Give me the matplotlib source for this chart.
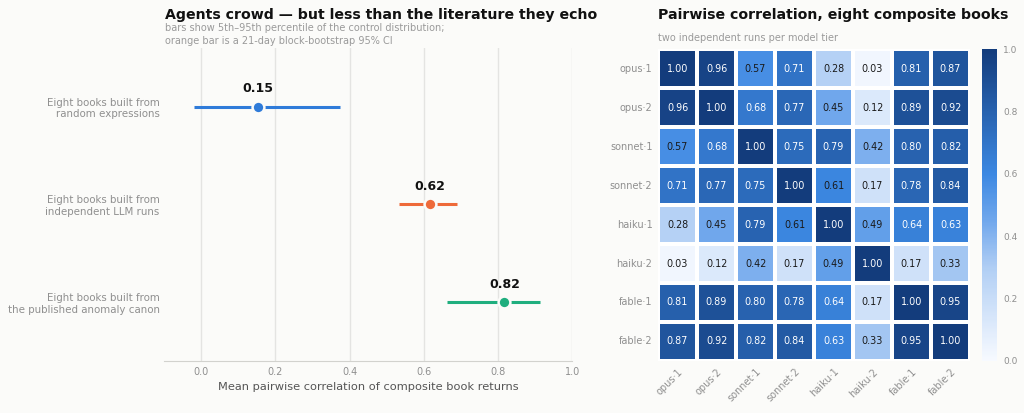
import numpy as np
import matplotlib
matplotlib.use("Agg")
import matplotlib.pyplot as plt
from matplotlib.colors import LinearSegmentedColormap
import seaborn as sns

# ---- data ----
groups = ["Eight books built from\nrandom expressions",
          "Eight books built from\nindependent LLM runs",
          "Eight books built from\nthe published anomaly canon"]
means = [0.154, 0.617, 0.817]
lo = [-0.018, 0.533, 0.663]
hi = [0.374, 0.690, 0.912]
labels = ["0.15", "0.62", "0.82"]
colors = ["#2f7bd9", "#ee6a3a", "#1fae7e"]

books = ["opus·1", "opus·2", "sonnet·1", "sonnet·2", "haiku·1", "haiku·2", "fable·1", "fable·2"]
corr = np.array([
    [1.00, 0.96, 0.57, 0.71, 0.28, 0.03, 0.81, 0.87],
    [0.96, 1.00, 0.68, 0.77, 0.45, 0.12, 0.89, 0.92],
    [0.57, 0.68, 1.00, 0.75, 0.79, 0.42, 0.80, 0.82],
    [0.71, 0.77, 0.75, 1.00, 0.61, 0.17, 0.78, 0.84],
    [0.28, 0.45, 0.79, 0.61, 1.00, 0.49, 0.64, 0.63],
    [0.03, 0.12, 0.42, 0.17, 0.49, 1.00, 0.17, 0.33],
    [0.81, 0.89, 0.80, 0.78, 0.64, 0.17, 1.00, 0.95],
    [0.87, 0.92, 0.82, 0.84, 0.63, 0.33, 0.95, 1.00],
])

BG = "#fbfbf9"
GRAY = "#8f8f8f"
plt.rcParams['font.family'] = ['DejaVu Sans']

fig = plt.figure(figsize=(10.24, 4.13), dpi=100, facecolor=BG)

# ---- left panel ----
ax = fig.add_axes([0.160, 0.126, 0.399, 0.758], facecolor=BG)
ypos = np.arange(len(groups))
for i in range(len(groups)):
    ax.plot([lo[i], hi[i]], [ypos[i], ypos[i]], color=colors[i], lw=2.2,
            solid_capstyle='butt', zorder=2)
    ax.plot(means[i], ypos[i], 'o', ms=8.5, color=colors[i], mec=BG, mew=1.8, zorder=3)
    ax.text(means[i], ypos[i] - 0.18, labels[i], ha='center', va='center',
            fontsize=9, fontweight='bold', color='#111111')
ax.set_xlim(-0.1, 1.0)
ax.set_ylim(2.6, -0.6)
ax.set_yticks(ypos)
ax.set_yticklabels(groups, fontsize=7.4, color=GRAY)
ax.set_xticks([0, 0.2, 0.4, 0.6, 0.8, 1.0])
ax.set_xticklabels(["0.0", "0.2", "0.4", "0.6", "0.8", "1.0"], fontsize=7, color=GRAY)
ax.tick_params(axis='y', length=0, pad=3)
ax.tick_params(axis='x', length=0, pad=4)
ax.grid(axis='x', color='#e4e4e2', lw=1)
ax.set_axisbelow(True)
for s in ['top', 'right', 'left']:
    ax.spines[s].set_visible(False)
ax.spines['bottom'].set_color('#d2d2ce')
ax.set_xlabel("Mean pairwise correlation of composite book returns", fontsize=8.2,
              color='#555555', labelpad=4)

fig.text(0.161, 0.964, "Agents crowd — but less than the literature they echo",
         fontsize=10.15, fontweight='bold', color='#111111', ha='left', va='center')
fig.text(0.161, 0.916, "bars show 5th–95th percentile of the control distribution;\n"
         "orange bar is a 21-day block-bootstrap 95% CI",
         fontsize=7, color='#9a9a9a', ha='left', va='center', linespacing=1.3)

# ---- right panel ----
cmap = LinearSegmentedColormap.from_list(
    "blu", [(0.0, "#f7faff"), (0.3, "#b0cef4"), (0.45, "#70a7ec"),
            (0.6, "#3c88e2"), (1.0, "#133c7c")])
hax = fig.add_axes([0.6426, 0.126, 0.3047, 0.755], facecolor=BG)
cax = fig.add_axes([0.9590, 0.126, 0.0150, 0.755])
sns.heatmap(corr, ax=hax, cbar_ax=cax, cmap=cmap, vmin=0, vmax=1, annot=False,
            linewidths=1.5, linecolor='white',
            xticklabels=books, yticklabels=books)
for r in range(corr.shape[0]):
    for c in range(corr.shape[1]):
        v = corr[r, c]
        hax.text(c + 0.5, r + 0.5, f"{v:.2f}", ha='center', va='center', fontsize=6.9,
                 color='white' if v > 0.62 else '#1a1a1a')
hax.tick_params(axis='both', length=0, labelsize=7, labelcolor=GRAY, pad=4)
plt.setp(hax.get_xticklabels(), rotation=45, ha='right', rotation_mode='anchor')
plt.setp(hax.get_yticklabels(), rotation=0)
cax.tick_params(length=0, labelsize=6.5, labelcolor=GRAY, pad=4)
cax.set_yticks([0, 0.2, 0.4, 0.6, 0.8, 1.0])
cax.set_yticklabels(["0.0", "0.2", "0.4", "0.6", "0.8", "1.0"])
for s in cax.spines.values():
    s.set_visible(False)

fig.text(0.6426, 0.964, "Pairwise correlation, eight composite books",
         fontsize=10.15, fontweight='bold', color='#111111', ha='left', va='center')
fig.text(0.6426, 0.908, "two independent runs per model tier",
         fontsize=7, color='#9a9a9a', ha='left', va='center')

fig.savefig("out.png", dpi=100, facecolor=BG)
